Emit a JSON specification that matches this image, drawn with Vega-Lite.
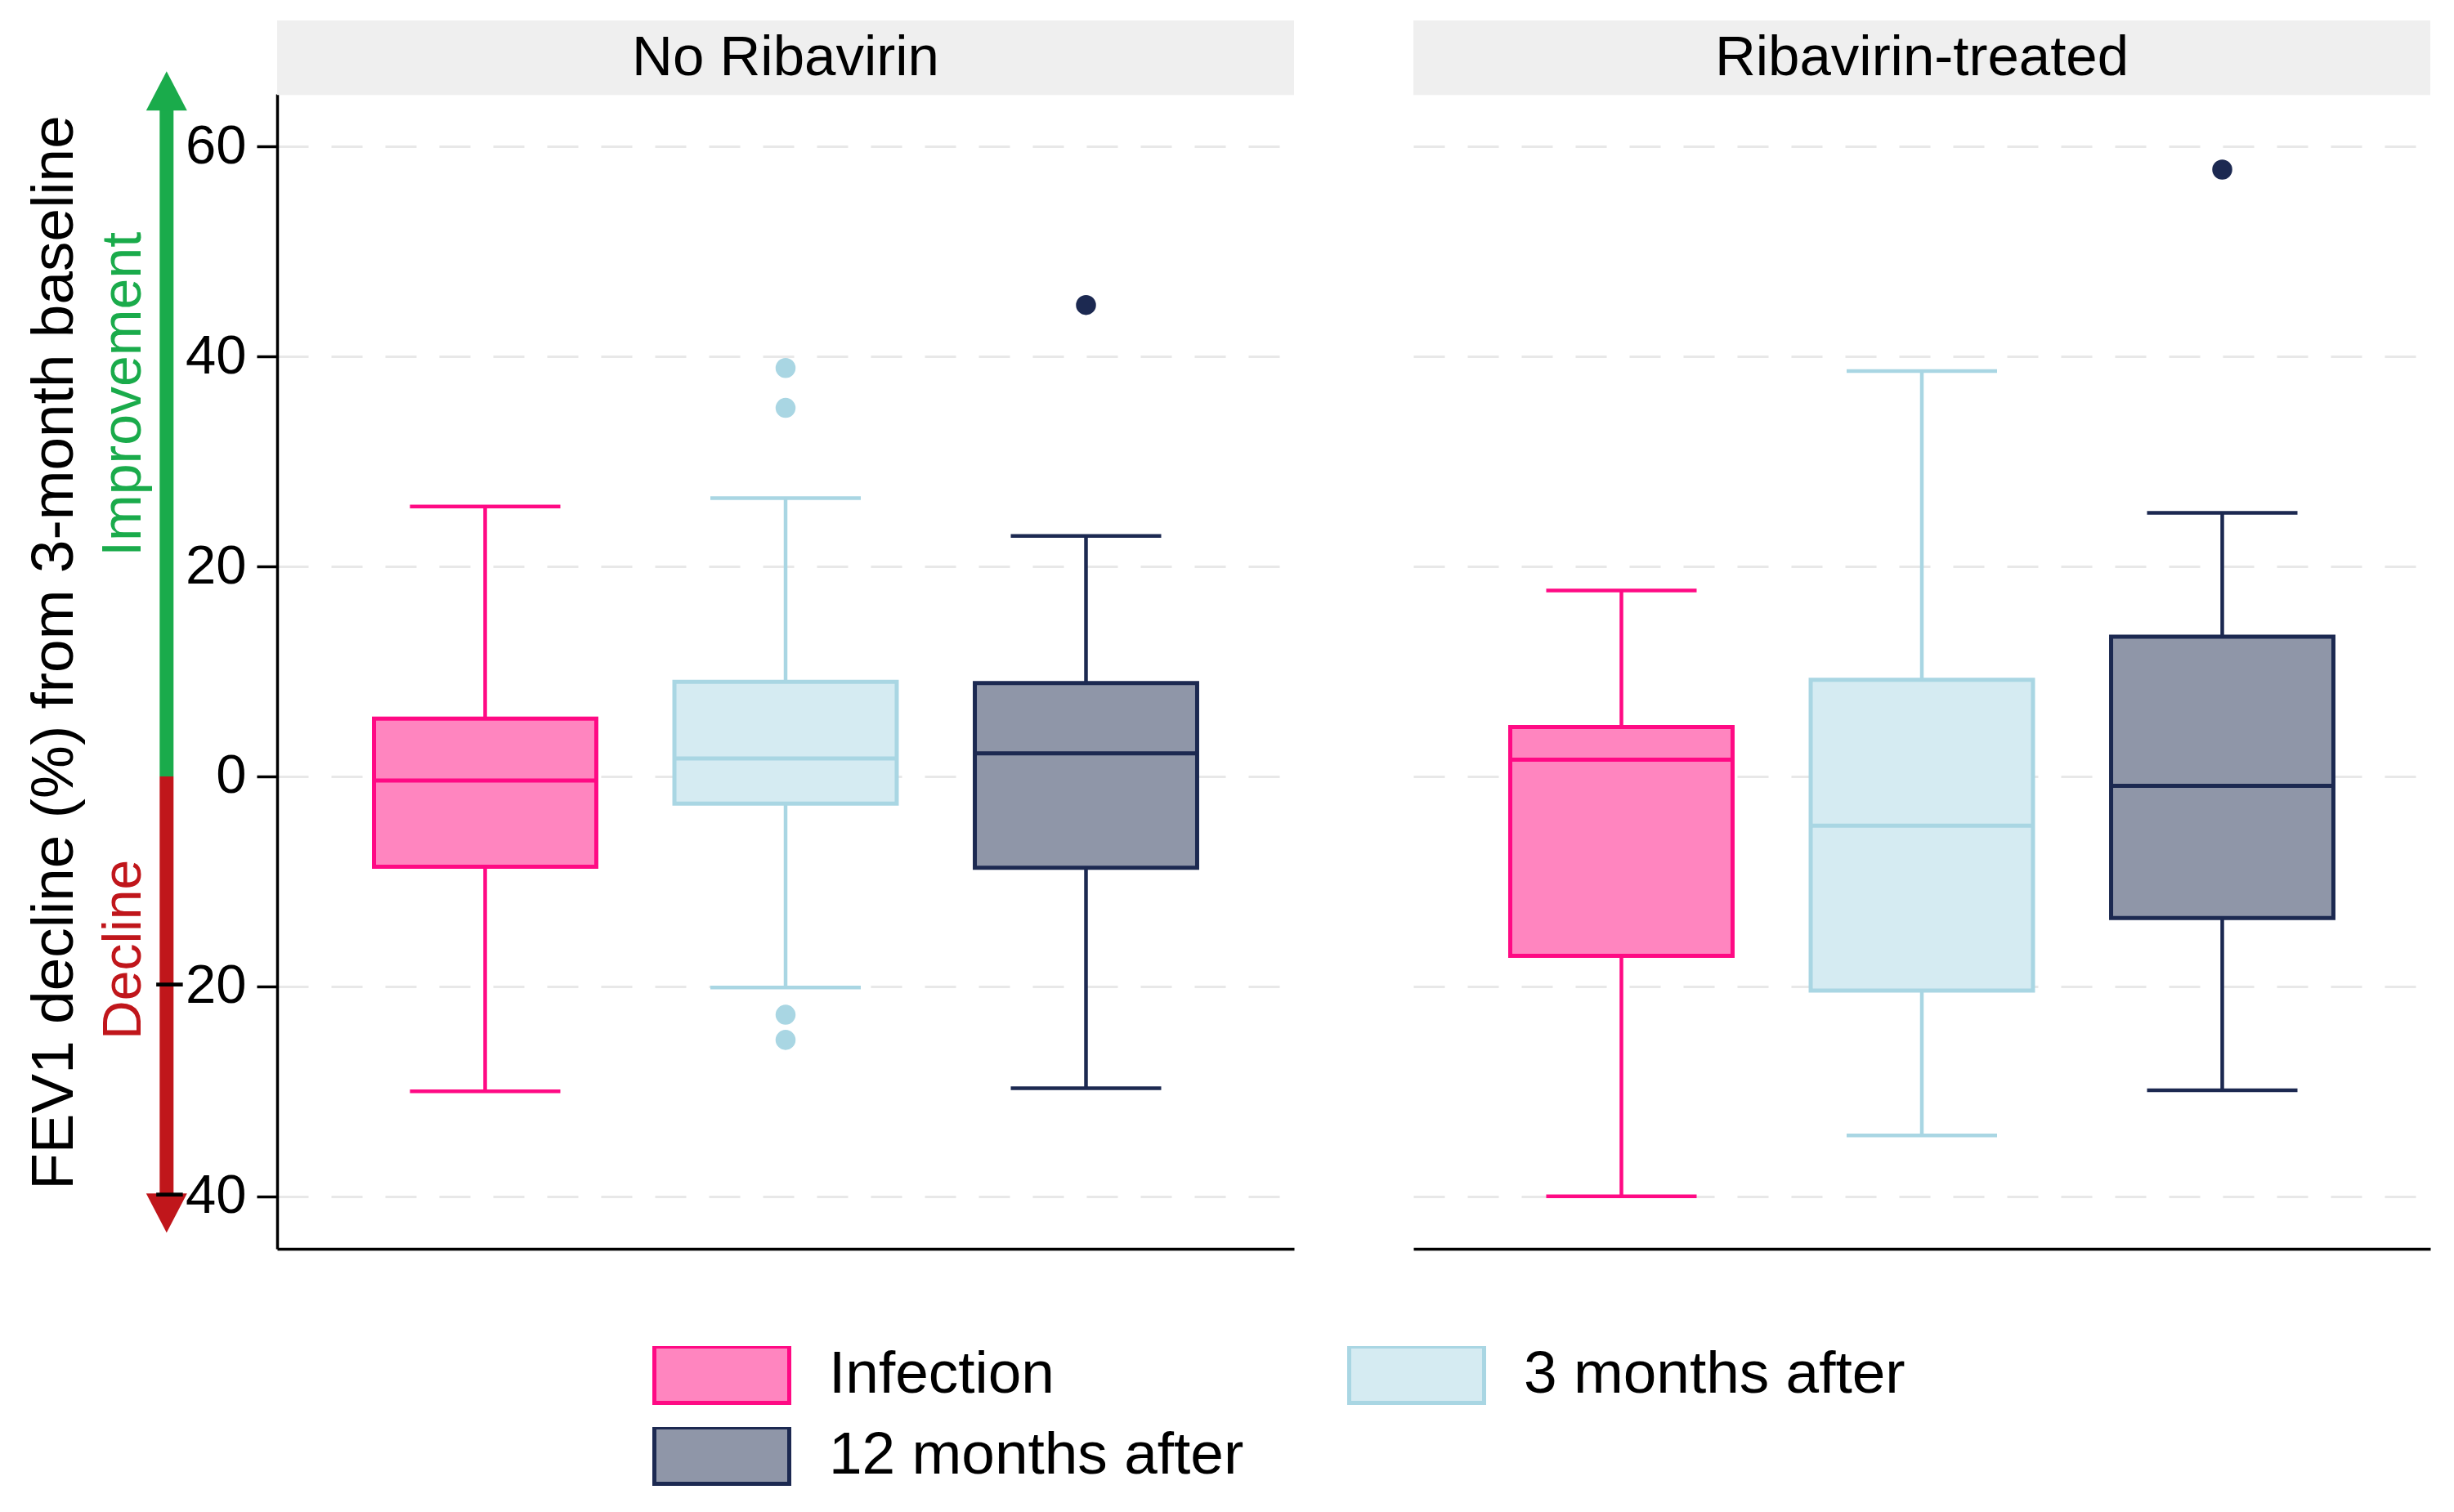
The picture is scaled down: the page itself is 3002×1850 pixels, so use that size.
{
  "$schema": "https://vega.github.io/schema/vega-lite/v6.json",
  "background": "white",
  "padding": {"left": 30, "top": 25, "right": 10, "bottom": 10},
  "datasets": {
    "stats": [
      {"group": "No Ribavirin", "time": "Infection", "lower": -30.0, "q1": -8.6, "median": -0.4, "q3": 5.5, "upper": 25.7},
      {"group": "No Ribavirin", "time": "3 months after", "lower": -20.1, "q1": -2.6, "median": 1.7, "q3": 9.0, "upper": 26.5},
      {"group": "No Ribavirin", "time": "12 months after", "lower": -29.7, "q1": -8.7, "median": 2.2, "q3": 8.9, "upper": 22.9},
      {"group": "Ribavirin-treated", "time": "Infection", "lower": -40.0, "q1": -17.1, "median": 1.6, "q3": 4.7, "upper": 17.7},
      {"group": "Ribavirin-treated", "time": "3 months after", "lower": -34.2, "q1": -20.4, "median": -4.7, "q3": 9.2, "upper": 38.6},
      {"group": "Ribavirin-treated", "time": "12 months after", "lower": -29.9, "q1": -13.5, "median": -0.9, "q3": 13.3, "upper": 25.1}
    ],
    "outliers": [
      {"group": "No Ribavirin", "time": "3 months after", "value": 38.9},
      {"group": "No Ribavirin", "time": "3 months after", "value": 35.1},
      {"group": "No Ribavirin", "time": "3 months after", "value": -22.7},
      {"group": "No Ribavirin", "time": "3 months after", "value": -25.1},
      {"group": "No Ribavirin", "time": "12 months after", "value": 44.9},
      {"group": "Ribavirin-treated", "time": "12 months after", "value": 57.8}
    ]
  },
  "bounds": "flush",
  "spacing": 146,
  "resolve": {"scale": {"x": "independent"}},
  "hconcat": [
    {
      "width": 60,
      "height": 1413,
      "layer": [
        {
          "data": {"values": [{}]},
          "mark": {"type": "rule", "color": "#1aab4b", "strokeWidth": 17, "strokeCap": "butt"},
          "encoding": {
            "x": {"datum": 1.18, "type": "quantitative", "scale": {"domain": [0, 1]}, "axis": null},
            "y": {
              "datum": 0, "type": "quantitative",
              "scale": {"domain": [-45, 65], "nice": false, "zero": false},
              "axis": {"title": "FEV1 decline (%) from 3-month baseline", "titleFontSize": 73, "titlePadding": 30, "titleY": 683, "labels": false, "ticks": false, "domain": false, "grid": false, "minExtent": 0}
            },
            "y2": {"datum": 63.6}
          }
        },
        {
          "data": {"values": [{}]},
          "mark": {"type": "rule", "color": "#c0161b", "strokeWidth": 17, "strokeCap": "butt"},
          "encoding": {
            "x": {"datum": 1.18, "type": "quantitative"},
            "y": {"datum": 0, "type": "quantitative"},
            "y2": {"datum": -39.8}
          }
        },
        {
          "data": {"values": [{}]},
          "mark": {"type": "point", "shape": "M-1,0.96L0,-0.96L1,0.96Z", "filled": true, "color": "#1aab4b", "size": 2500, "opacity": 1, "strokeWidth": 0},
          "encoding": {
            "x": {"datum": 1.18, "type": "quantitative"},
            "y": {"datum": 65.3, "type": "quantitative"}
          }
        },
        {
          "data": {"values": [{}]},
          "mark": {"type": "point", "shape": "M-1,-0.96L0,0.96L1,-0.96Z", "filled": true, "color": "#c0161b", "size": 2500, "opacity": 1, "strokeWidth": 0},
          "encoding": {
            "x": {"datum": 1.18, "type": "quantitative"},
            "y": {"datum": -41.6, "type": "quantitative"}
          }
        },
        {
          "data": {"values": [{"label": "Improvement"}]},
          "mark": {"type": "text", "angle": 270, "align": "center", "baseline": "middle", "fontSize": 68, "color": "#1aab4b"},
          "encoding": {
            "text": {"field": "label"},
            "x": {"datum": 0.32, "type": "quantitative"},
            "y": {"datum": 36.4, "type": "quantitative"}
          }
        },
        {
          "data": {"values": [{"label": "Decline"}]},
          "mark": {"type": "text", "angle": 270, "align": "center", "baseline": "middle", "fontSize": 66, "color": "#c0161b"},
          "encoding": {
            "text": {"field": "label"},
            "x": {"datum": 0.32, "type": "quantitative"},
            "y": {"datum": -16.5, "type": "quantitative"}
          }
        }
      ]
    },
    {
      "width": 1244,
      "height": 1413,
      "layer": [
        {
          "data": {"values": [{"panel": "No Ribavirin"}]},
          "mark": {"type": "rect", "color": "#efefef"},
          "encoding": {
            "y": {
              "datum": 64.9, "type": "quantitative",
              "scale": {"domain": [-45, 65], "nice": false, "zero": false},
              "axis": {"values": [-40, -20, 0, 20, 40, 60], "title": null, "labelFontSize": 67, "labelPadding": 13, "tickSize": 25, "tickWidth": 3.5, "tickColor": "black", "domainColor": "black", "domainWidth": 3.5, "grid": true, "gridDash": [38, 28], "gridColor": "#e8e8e8", "gridWidth": 3}
            },
            "y2": {"datum": 72}
          }
        },
        {
          "data": {"values": [{"panel": "No Ribavirin"}]},
          "mark": {"type": "text", "fontSize": 69, "color": "black", "baseline": "middle"},
          "encoding": {
            "text": {"field": "panel"},
            "y": {"datum": 68.4, "type": "quantitative"}
          }
        },
        {
          "data": {"name": "stats"},
          "transform": [{"filter": "datum.group === 'No Ribavirin'"}],
          "mark": {"type": "rule", "strokeWidth": 4.5},
          "encoding": {
            "x": {"field": "time", "type": "nominal", "scale": {"domain": ["Infection", "3 months after", "12 months after"], "paddingInner": 0.26, "paddingOuter": 0.3225}, "axis": {"labels": false, "ticks": false, "title": null, "domainColor": "black", "domainWidth": 3.5, "grid": false}},
            "y": {"field": "lower", "type": "quantitative"},
            "y2": {"field": "upper"},
            "color": {"field": "time", "type": "nominal", "scale": {"domain": ["12 months after", "3 months after", "Infection"], "range": ["#1c2951", "#a9d6e3", "#ff0a84"]}, "legend": null}
          }
        },
        {
          "data": {"name": "stats"},
          "transform": [{"filter": "datum.group === 'No Ribavirin'"}],
          "mark": {"type": "bar", "strokeWidth": 5, "opacity": 1},
          "encoding": {
            "x": {"field": "time", "type": "nominal"},
            "y": {"field": "q1", "type": "quantitative"},
            "y2": {"field": "q3"},
            "fill": {"field": "time", "type": "nominal", "title": null, "scale": {"domain": ["Infection", "3 months after", "12 months after"], "range": ["#ff85bf", "#d5ebf2", "#8f96a8"]},
              "legend": {"orient": "none", "legendX": 665, "legendY": 1532, "direction": "horizontal", "columns": 2, "symbolType": "M-1,-0.418H1V0.418H-1Z", "symbolSize": 27225, "symbolStrokeWidth": 5, "labelFontSize": 73, "labelFont": "Liberation Sans", "labelColor": "black", "labelOffset": 46, "columnPadding": 126, "rowPadding": 26, "clipHeight": 70, "labelLimit": 2000}},
            "stroke": {"field": "time", "type": "nominal", "title": null, "scale": {"domain": ["Infection", "3 months after", "12 months after"], "range": ["#ff0a84", "#a9d6e3", "#1c2951"]},
              "legend": {"orient": "none", "legendX": 665, "legendY": 1532, "direction": "horizontal", "columns": 2, "symbolType": "M-1,-0.418H1V0.418H-1Z", "symbolSize": 27225, "symbolStrokeWidth": 5, "labelFontSize": 73, "labelFont": "Liberation Sans", "labelColor": "black", "labelOffset": 46, "columnPadding": 126, "rowPadding": 26, "clipHeight": 70, "labelLimit": 2000}}
          }
        },
        {
          "data": {"name": "stats"},
          "transform": [{"filter": "datum.group === 'No Ribavirin'"}],
          "mark": {"type": "tick", "size": 272, "thickness": 5, "opacity": 1},
          "encoding": {
            "x": {"field": "time", "type": "nominal"},
            "y": {"field": "median", "type": "quantitative"},
            "color": {"field": "time", "type": "nominal", "legend": null}
          }
        },
        {
          "data": {"name": "stats"},
          "transform": [{"filter": "datum.group === 'No Ribavirin'"}],
          "mark": {"type": "tick", "size": 184, "thickness": 4.5, "opacity": 1},
          "encoding": {
            "x": {"field": "time", "type": "nominal"},
            "y": {"field": "lower", "type": "quantitative"},
            "color": {"field": "time", "type": "nominal", "legend": null}
          }
        },
        {
          "data": {"name": "stats"},
          "transform": [{"filter": "datum.group === 'No Ribavirin'"}],
          "mark": {"type": "tick", "size": 184, "thickness": 4.5, "opacity": 1},
          "encoding": {
            "x": {"field": "time", "type": "nominal"},
            "y": {"field": "upper", "type": "quantitative"},
            "color": {"field": "time", "type": "nominal", "legend": null}
          }
        },
        {
          "data": {"name": "outliers"},
          "transform": [{"filter": "datum.group === 'No Ribavirin'"}],
          "mark": {"type": "circle", "size": 600, "opacity": 1},
          "encoding": {
            "x": {"field": "time", "type": "nominal"},
            "y": {"field": "value", "type": "quantitative"},
            "color": {"field": "time", "type": "nominal", "legend": null}
          }
        }
      ]
    },
    {
      "width": 1244,
      "height": 1413,
      "layer": [
        {
          "data": {"values": [{"panel": "Ribavirin-treated"}]},
          "mark": {"type": "rect", "color": "#efefef"},
          "encoding": {
            "y": {
              "datum": 64.9, "type": "quantitative",
              "scale": {"domain": [-45, 65], "nice": false, "zero": false},
              "axis": {"values": [-40, -20, 0, 20, 40, 60], "title": null, "labels": false, "ticks": false, "domain": false, "grid": true, "gridDash": [38, 28], "gridColor": "#e8e8e8", "gridWidth": 3}
            },
            "y2": {"datum": 72}
          }
        },
        {
          "data": {"values": [{"panel": "Ribavirin-treated"}]},
          "mark": {"type": "text", "fontSize": 69, "color": "black", "baseline": "middle"},
          "encoding": {
            "text": {"field": "panel"},
            "y": {"datum": 68.4, "type": "quantitative"}
          }
        },
        {
          "data": {"name": "stats"},
          "transform": [{"filter": "datum.group === 'Ribavirin-treated'"}],
          "mark": {"type": "rule", "strokeWidth": 4.5},
          "encoding": {
            "x": {"field": "time", "type": "nominal", "scale": {"domain": ["Infection", "3 months after", "12 months after"], "paddingInner": 0.26, "paddingOuter": 0.3225}, "axis": {"labels": false, "ticks": false, "title": null, "domainColor": "black", "domainWidth": 3.5, "grid": false}},
            "y": {"field": "lower", "type": "quantitative"},
            "y2": {"field": "upper"},
            "color": {"field": "time", "type": "nominal", "legend": null}
          }
        },
        {
          "data": {"name": "stats"},
          "transform": [{"filter": "datum.group === 'Ribavirin-treated'"}],
          "mark": {"type": "bar", "strokeWidth": 5, "opacity": 1},
          "encoding": {
            "x": {"field": "time", "type": "nominal"},
            "y": {"field": "q1", "type": "quantitative"},
            "y2": {"field": "q3"},
            "fill": {"field": "time", "type": "nominal", "title": null},
            "stroke": {"field": "time", "type": "nominal", "title": null}
          }
        },
        {
          "data": {"name": "stats"},
          "transform": [{"filter": "datum.group === 'Ribavirin-treated'"}],
          "mark": {"type": "tick", "size": 272, "thickness": 5, "opacity": 1},
          "encoding": {
            "x": {"field": "time", "type": "nominal"},
            "y": {"field": "median", "type": "quantitative"},
            "color": {"field": "time", "type": "nominal", "legend": null}
          }
        },
        {
          "data": {"name": "stats"},
          "transform": [{"filter": "datum.group === 'Ribavirin-treated'"}],
          "mark": {"type": "tick", "size": 184, "thickness": 4.5, "opacity": 1},
          "encoding": {
            "x": {"field": "time", "type": "nominal"},
            "y": {"field": "lower", "type": "quantitative"},
            "color": {"field": "time", "type": "nominal", "legend": null}
          }
        },
        {
          "data": {"name": "stats"},
          "transform": [{"filter": "datum.group === 'Ribavirin-treated'"}],
          "mark": {"type": "tick", "size": 184, "thickness": 4.5, "opacity": 1},
          "encoding": {
            "x": {"field": "time", "type": "nominal"},
            "y": {"field": "upper", "type": "quantitative"},
            "color": {"field": "time", "type": "nominal", "legend": null}
          }
        },
        {
          "data": {"name": "outliers"},
          "transform": [{"filter": "datum.group === 'Ribavirin-treated'"}],
          "mark": {"type": "circle", "size": 600, "opacity": 1},
          "encoding": {
            "x": {"field": "time", "type": "nominal"},
            "y": {"field": "value", "type": "quantitative"},
            "color": {"field": "time", "type": "nominal", "legend": null}
          }
        }
      ]
    }
  ],
  "config": {
    "view": {"stroke": null},
    "font": "Liberation Sans",
    "axis": {"labelFont": "Liberation Sans", "titleFont": "Liberation Sans", "labelColor": "black", "titleColor": "black", "titleFontWeight": "normal"}
  }
}
